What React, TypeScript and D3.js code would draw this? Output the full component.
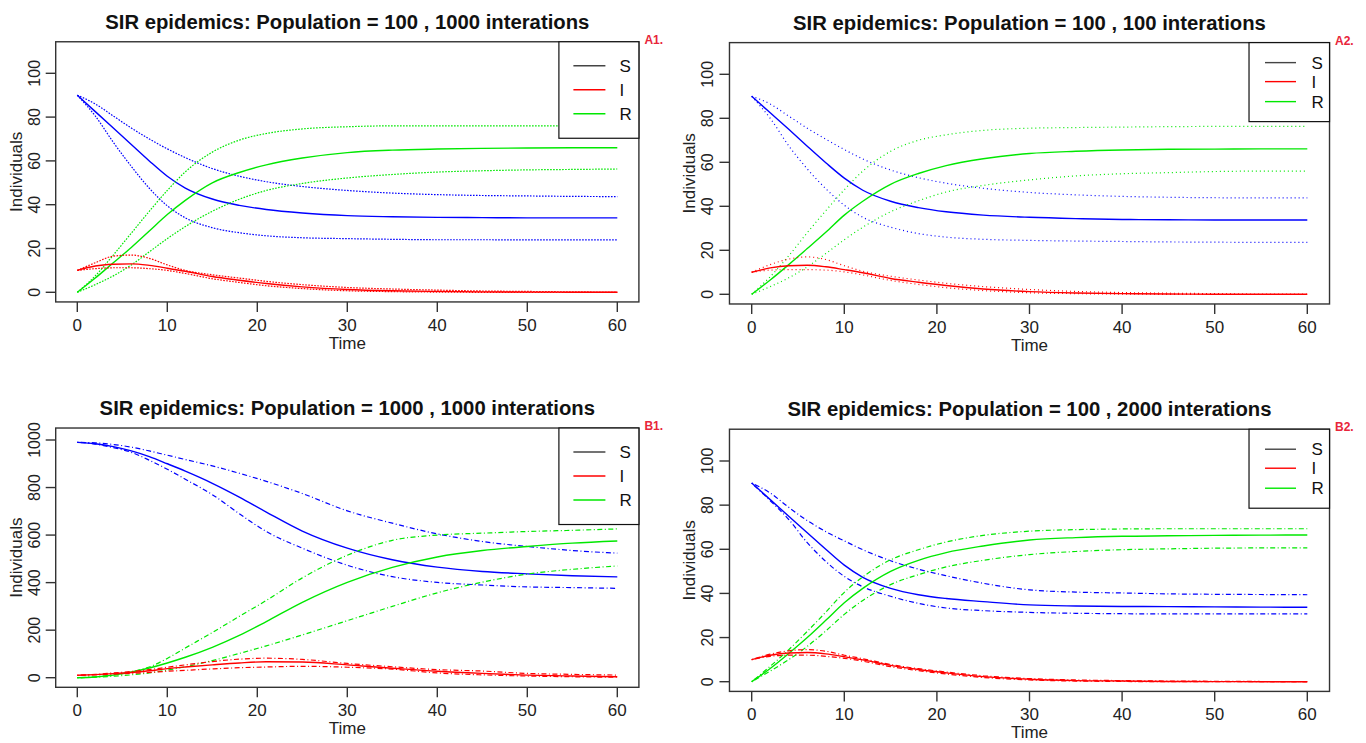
import React from 'react';
import * as d3 from 'd3';

// shared time points (days)
const time = [0, 2, 4, 6, 8, 10, 12, 15, 18, 21, 25, 30, 35, 40, 45, 50, 55, 60];

// A1: population 100, 1000 iterations
const a1S = [90, 82.5, 75, 67.5, 60, 53, 47.6, 42.6, 39.7, 37.8, 36.2, 35, 34.5, 34.2, 34.1, 34, 34, 34];
const a1SHi = [90, 86, 80.5, 75, 70, 65.5, 61.5, 56.5, 53, 50.5, 48.3, 46.5, 45.3, 44.6, 44.2, 44, 43.8, 43.7];
const a1SLo = [90, 80.5, 68.5, 57.5, 47.5, 39.5, 34, 29.5, 27.2, 25.8, 24.9, 24.5, 24.2, 24, 24, 23.9, 23.9, 23.9];
const a1I = [10, 12, 12.8, 13, 12.3, 11, 9.6, 7.2, 5.5, 4, 2.5, 1.3, 0.7, 0.4, 0.2, 0.1, 0.05, 0];
const a1IHi = [10, 13.5, 16.5, 17, 15.5, 12.5, 10, 8, 6.5, 5, 3.5, 2.2, 1.5, 1, 0.6, 0.4, 0.2, 0.1];
const a1ILo = [10, 10.8, 11.2, 11.2, 10.8, 10, 8.6, 6.2, 4.5, 3, 1.7, 0.7, 0.3, 0.1, 0, 0, 0, 0];
const a1R = [0, 6.5, 13.5, 20.5, 28, 35.5, 42, 50, 54.7, 58.2, 61.3, 63.8, 64.9, 65.4, 65.7, 65.9, 66, 66];
const a1RHi = [0, 7.5, 17, 27, 37, 46.5, 55, 64, 69.5, 72.5, 74.6, 75.6, 76, 76, 76, 76, 76, 76];
const a1RLo = [0, 3.5, 7.5, 12.5, 18.5, 24.5, 30, 37, 42.5, 46.5, 49.7, 52.2, 53.8, 54.9, 55.5, 55.9, 56.1, 56.3];

// A2: population 100, 100 iterations
const a2S = [90, 82.5, 75, 67.3, 59.8, 52.8, 47.3, 42.3, 39.4, 37.5, 36, 35, 34.4, 34, 33.9, 33.8, 33.8, 33.8];
const a2SHi = [90, 86.5, 81, 75.5, 70.5, 65.8, 61.5, 56.5, 53, 50.5, 48.2, 46.3, 45.2, 44.5, 44.1, 43.9, 43.8, 43.8];
const a2SLo = [90, 80, 67.5, 57, 48, 40.5, 35, 30.5, 27.6, 26, 25, 24.5, 24.2, 24, 23.8, 23.7, 23.6, 23.6];
const a2I = [10, 12, 13, 13.2, 12.5, 11.2, 9.8, 7.2, 5.5, 4, 2.4, 1.2, 0.6, 0.3, 0.15, 0.05, 0, 0];
const a2IHi = [10, 13.5, 16, 17, 15.8, 13, 10.5, 8.2, 6.5, 5, 3.5, 2.2, 1.3, 0.8, 0.5, 0.3, 0, 0];
const a2ILo = [10, 11, 11.2, 11.2, 11, 10.2, 8.8, 6.3, 4.5, 3, 1.7, 0.7, 0.3, 0.1, 0, 0, 0, 0];
const a2R = [0, 6.5, 13.5, 20.8, 28.2, 36, 42.3, 50, 54.9, 58.5, 61.6, 64, 65, 65.6, 65.9, 66, 66.1, 66.1];
const a2RHi = [0, 8, 17.5, 28, 38, 47.5, 56, 65, 70, 72.5, 74.5, 75.5, 75.8, 76, 76.2, 76.3, 76.3, 76.3];
const a2RLo = [0, 3.5, 7.5, 12.5, 18.5, 24.8, 30.5, 37.5, 42.5, 46.5, 49.5, 52, 53.8, 54.8, 55.3, 55.8, 56, 56];

// B1: population 1000, 1000 iterations
const b1S = [990, 984, 972, 954, 930, 900, 869, 818, 760, 697, 617, 545, 496, 465, 447, 437, 429, 424];
const b1SHi = [990, 988, 981, 970, 954, 936, 918, 891, 860, 826, 775, 702, 650, 605, 573, 552, 535, 524];
const b1SLo = [990, 983, 968, 948, 915, 877, 835, 770, 690, 615, 545, 473, 425, 401, 390, 382, 379, 376];
const b1I = [10, 13, 17, 22, 29, 38, 45, 54, 62, 67, 66, 54, 40, 27, 18, 11, 7, 4];
const b1IHi = [10, 14, 20, 26, 34, 44, 54, 68, 78, 82, 77, 60, 46, 34, 28, 18, 14, 11];
const b1ILo = [10, 12, 15, 18, 22, 27, 31, 37, 42, 45, 48, 44, 36, 20, 12, 7, 4, 2];
const b1R = [0, 3, 11, 24, 41, 62, 86, 128, 178, 236, 317, 401, 464, 508, 535, 552, 566, 575];
const b1RHi = [0, 4, 12, 24, 45, 81, 125, 190, 258, 325, 420, 515, 578, 600, 608, 615, 620, 626];
const b1RLo = [0, 2, 6, 12, 20, 32, 46, 72, 102, 134, 180, 240, 300, 357, 402, 436, 456, 470];

// B2: population 100, 2000 iterations
const b2S = [90, 82.5, 75, 67.5, 60, 52.8, 47.3, 42.3, 39.4, 37.7, 36.3, 34.8, 34.3, 34.1, 34, 33.9, 33.8, 33.7];
const b2SHi = [90, 85.5, 79, 73, 68, 63.8, 59.8, 54.8, 51, 48, 44.6, 41.6, 40.6, 40.2, 39.8, 39.6, 39.5, 39.4];
const b2SLo = [90, 82, 73.5, 63, 54.5, 47.7, 43, 38.7, 35.5, 33.4, 32.2, 31.4, 31, 30.8, 30.7, 30.7, 30.7, 30.7];
const b2I = [10, 12, 13, 13.2, 12.6, 11.3, 9.9, 7.4, 5.5, 4, 2.3, 1.1, 0.5, 0.3, 0.1, 0.05, 0, 0];
const b2IHi = [10, 12.5, 14, 14.5, 13.8, 12, 10.4, 7.8, 5.9, 4.4, 2.7, 1.4, 0.8, 0.5, 0.3, 0.2, 0.1, 0];
const b2ILo = [10, 11.5, 12, 12, 11.5, 10.6, 9.3, 6.8, 5, 3.5, 1.9, 0.8, 0.3, 0.1, 0, 0, 0, 0];
const b2R = [0, 6, 12.8, 20, 27.8, 35.8, 42.3, 50, 55, 58.5, 61.5, 64.2, 65.3, 65.9, 66.1, 66.3, 66.4, 66.5];
const b2RHi = [0, 7, 14.5, 22.8, 31.5, 40.5, 47.5, 55.2, 59.8, 63.3, 66.3, 68.2, 68.9, 69.2, 69.3, 69.3, 69.3, 69.3];
const b2RLo = [0, 4.8, 10, 16, 23, 30.5, 36.8, 44, 48.5, 52, 55, 57.6, 59, 59.8, 60.2, 60.5, 60.6, 60.6];

const xTicks = [0, 10, 20, 30, 40, 50, 60];
const yTicksSmall = [0, 20, 40, 60, 80, 100];
const yTicksLarge = [0, 200, 400, 600, 800, 1000];
const legendLabels = ['S', 'I', 'R'];

const BLUE = '#0000ff';
const RED = '#ff0000';
const GREEN = '#00e800';
const FONT = '"Liberation Sans", Arial, sans-serif';

type Panel = {
  id: string;
  title: string;
  xr: [number, number];
  yr: [number, number];
  yTop: number;
  yTicks: number[];
  dash: string;
  bigLegend: boolean;
  S: number[][];
  I: number[][];
  R: number[][];
};

const panels: Panel[] = [
  {
    id: 'A1.', title: 'SIR epidemics: Population = 100 , 1000 interations',
    xr: [77.3, 617.3], yr: [292.3, 73.3], yTop: 100, yTicks: yTicksSmall, dash: '1.6,1.4', bigLegend: true,
    S: [a1S, a1SHi, a1SLo], I: [a1I, a1IHi, a1ILo], R: [a1R, a1RHi, a1RLo],
  },
  {
    id: 'A2.', title: 'SIR epidemics: Population = 100 , 100 interations',
    xr: [751.7, 1307.3], yr: [294.3, 74.3], yTop: 100, yTicks: yTicksSmall, dash: '1,3', bigLegend: false,
    S: [a2S, a2SHi, a2SLo], I: [a2I, a2IHi, a2ILo], R: [a2R, a2RHi, a2RLo],
  },
  {
    id: 'B1.', title: 'SIR epidemics: Population = 1000 , 1000 interations',
    xr: [77.3, 617.3], yr: [677.7, 440], yTop: 1000, yTicks: yTicksLarge, dash: '1,2.5,5,2.5', bigLegend: true,
    S: [b1S, b1SHi, b1SLo], I: [b1I, b1IHi, b1ILo], R: [b1R, b1RHi, b1RLo],
  },
  {
    id: 'B2.', title: 'SIR epidemics: Population = 100 , 2000 interations',
    xr: [751.7, 1307.3], yr: [681.7, 461], yTop: 100, yTicks: yTicksSmall, dash: '1,2.5,5,2.5', bigLegend: false,
    S: [b2S, b2SHi, b2SLo], I: [b2I, b2IHi, b2ILo], R: [b2R, b2RHi, b2RLo],
  },
];

const PanelChart = ({ p }: { p: Panel }) => {
  const x = d3.scaleLinear().domain([0, 60]).range(p.xr);
  const y = d3.scaleLinear().domain([0, p.yTop]).range(p.yr);
  const ext = p.yTop === 1000 ? 1010 : 110;
  const left = x(-2.4);
  const right = x(62.4);
  const top = y(ext * 1.04);
  const bottom = y(-ext * 0.04);

  const line = d3
    .line<number>()
    .x((_, i) => x(time[i]))
    .y((d) => y(d))
    .curve(d3.curveMonotoneX);

  const groups: [number[][], string][] = [
    [p.S, BLUE],
    [p.R, GREEN],
    [p.I, RED],
  ];

  // legend box geometry
  const lg = p.bigLegend
    ? { l: right - 80, b: top + 96.5, rows: [24, 48, 72], x1: right - 65.5, x2: right - 33.5, tx: right - 19.5 }
    : { l: right - 80.5, b: top + 79, rows: [20, 39, 59], x1: right - 64.5, x2: right - 33.5, tx: right - 18 };
  const legendColors = ['#444', RED, GREEN];

  return (
    <g>
      <text x={(left + right) / 2} y={top - 13} textAnchor="middle" fontSize={20.3} fontWeight="bold" fill="#111">
        {p.title}
      </text>
      {groups.map(([arr, color], gi) =>
        arr.map((vals, k) => (
          <path
            key={`${gi}-${k}`}
            d={line(vals) || ''}
            fill="none"
            stroke={color}
            strokeWidth={k === 0 ? 1.4 : 1.2}
            strokeDasharray={k === 0 ? undefined : p.dash}
          />
        ))
      )}
      <rect x={left} y={top} width={right - left} height={bottom - top} fill="none" stroke="#333" strokeWidth={1.4} />
      {xTicks.map((t) => (
        <g key={`x${t}`}>
          <line x1={x(t)} x2={x(t)} y1={bottom} y2={bottom + 10} stroke="#333" strokeWidth={1.4} />
          <text x={x(t)} y={bottom + 29} textAnchor="middle" fontSize={17} fill="#222">
            {t}
          </text>
        </g>
      ))}
      {p.yTicks.map((v) => (
        <g key={`y${v}`}>
          <line x1={left - 10} x2={left} y1={y(v)} y2={y(v)} stroke="#333" strokeWidth={1.4} />
          <text
            transform={`translate(${left - 16},${y(v)}) rotate(-90)`}
            textAnchor="middle"
            fontSize={16}
            fill="#222"
          >
            {v}
          </text>
        </g>
      ))}
      <text x={(left + right) / 2} y={bottom + 47} textAnchor="middle" fontSize={17} fill="#222">
        Time
      </text>
      <text
        transform={`translate(${left - 34},${(top + bottom) / 2}) rotate(-90)`}
        textAnchor="middle"
        fontSize={17}
        fill="#222"
      >
        Individuals
      </text>
      <rect x={lg.l} y={top} width={right - lg.l} height={lg.b - top} fill="white" stroke="#111" strokeWidth={1.2} />
      {legendLabels.map((lab, i) => (
        <g key={lab}>
          <line x1={lg.x1} x2={lg.x2} y1={top + lg.rows[i]} y2={top + lg.rows[i]} stroke={legendColors[i]} strokeWidth={1.4} />
          <text x={lg.tx} y={top + lg.rows[i] + 6} fontSize={17} fill="#111">
            {lab}
          </text>
        </g>
      ))}
      <text x={right + 5.5} y={top + 2} fontSize={12} fontWeight="bold" fill="#e8253a">
        {p.id}
      </text>
    </g>
  );
};

const App = () => (
  <svg
    width={1366}
    height={743}
    style={{ position: 'absolute', left: 0, top: 0, background: 'white' }}
    fontFamily={FONT}
  >
    <rect width={1366} height={743} fill="white" />
    {panels.map((p) => (
      <PanelChart key={p.id} p={p} />
    ))}
  </svg>
);

export default App;
